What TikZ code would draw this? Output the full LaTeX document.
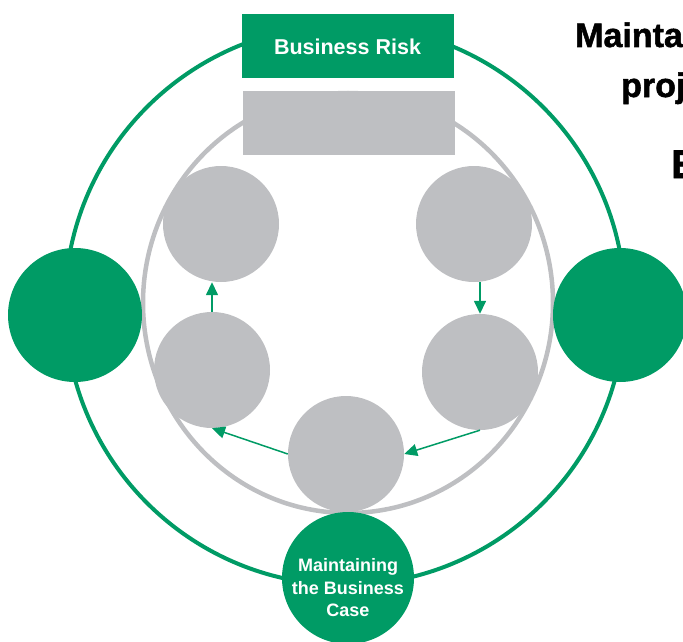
\documentclass[tikz,border=0pt]{standalone}
\usepackage{fontspec}
\setmainfont{Liberation Sans}
\newfontfamily\heavyfont[BoldFeatures={FakeBold=1.5}]{Liberation Sans}
\usetikzlibrary{arrows.meta}
\definecolor{risk_green}{RGB}{0,155,101}
\definecolor{step_gray}{RGB}{190,191,194}
\begin{document}
\begin{tikzpicture}[x=1pt,y=-1pt,>={Triangle[length=13pt,width=12pt]}]
    \tikzstyle{ball}=[circle, inner sep=0pt, draw=none]
    \tikzstyle{grayball}=[style=ball, minimum size=116pt, fill=step_gray]
    \tikzstyle{greenball}=[style=ball, minimum size=134pt, fill=risk_green]
    \tikzstyle{bar}=[rectangle, inner sep=0pt, minimum width=212pt, minimum height=64pt, text=white, font=\bfseries\fontsize{21.5}{26}\selectfont]
    \tikzstyle{caption}=[inner sep=0pt, text=white, align=center, font=\bfseries\fontsize{18}{22.5}\selectfont]
    \tikzstyle{flow}=[->, risk_green, line width=1.5pt]
    \tikzstyle{heading}=[anchor=base west, inner sep=0pt, text=black, font=\heavyfont\bfseries\fontsize{34}{40}\selectfont]

    \useasboundingbox (0,0) rectangle (683,642);

    \draw[risk_green, line width=4pt] (345,305) circle[radius=280];
    \draw[step_gray, line width=4.5pt] (348,303) ellipse[x radius=205, y radius=210];

    \node[bar, fill=risk_green]  (risk) at (347.5,46.5) {Business Risk};
    \node[bar, fill=step_gray]   (plan) at (348.5,123)  {};

    \node[greenball] (left)  at (75,315)  {};
    \node[greenball] (right) at (620,315) {};
    \node[greenball, minimum size=132pt] (case) at (348,578) {};
    \node[caption, yshift=-10pt] (casetext) at (case.center)
        {Maintaining\\the Business\\Case};

    \node[grayball] (tl)  at (221,224) {};
    \node[grayball] (tr)  at (474,224) {};
    \node[grayball] (ml)  at (212,370) {};
    \node[grayball] (mr)  at (480,372) {};
    \node[grayball] (bot) at (346,454) {};

    \draw[flow] (ml.north) -- (ml.north |- tl.south);
    \draw[flow] (tr.south -| mr.north) -- (mr.north);
    \draw[flow] (mr.south) -- (bot.east);
    \draw[flow] (bot.west) -- (ml.south);

    \node[heading] (title) at (575,47) {Mainta};
    \node[heading] (sub)   at (621,97) {proj};
    \node[heading, font=\heavyfont\bfseries\fontsize{40}{46}\selectfont] (tag) at (671,178) {E};
\end{tikzpicture}
\end{document}
